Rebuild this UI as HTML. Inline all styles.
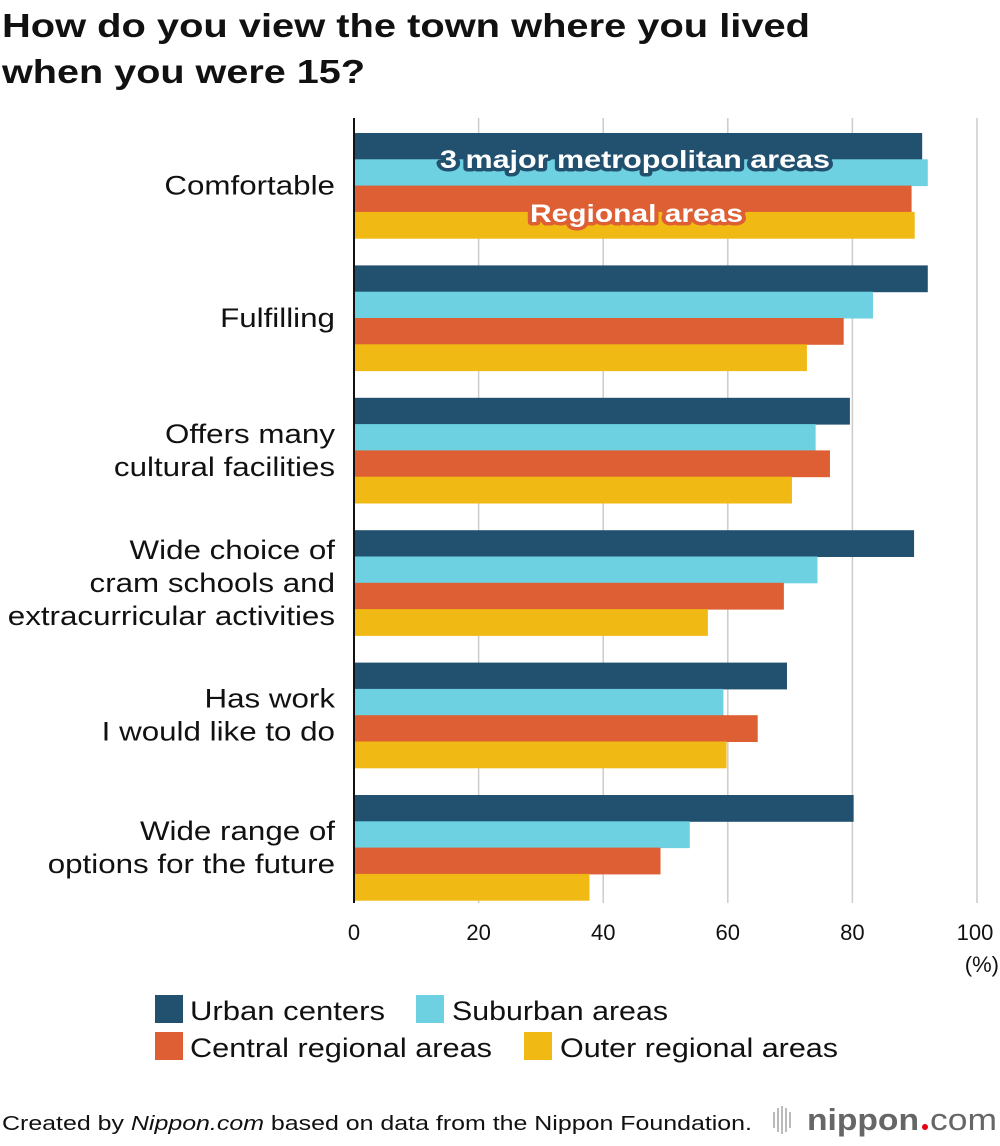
<!DOCTYPE html>
<html><head><meta charset="utf-8"><style>
body{margin:0;background:#fff}
svg{display:block;font-family:"Liberation Sans",Arial,sans-serif}
</style></head><body>
<svg width="1000" height="1146" viewBox="0 0 1000 1146">
<text x="2" y="37" font-size="33" font-weight="bold" fill="#111" textLength="808" lengthAdjust="spacingAndGlyphs">How do you view the town where you lived</text>
<text x="2" y="83" font-size="33" font-weight="bold" fill="#111" textLength="363" lengthAdjust="spacingAndGlyphs">when you were 15?</text>
<g id="grid"></g>
<g id="bars"></g>
<g id="labels"></g>
<g id="ticks"></g>
<line x1="354" y1="118" x2="354" y2="903" stroke="#111" stroke-width="2"/>
<text x="440" y="168" font-size="25" font-weight="bold" fill="#fff" stroke="#22516f" stroke-width="7" paint-order="stroke" stroke-linejoin="round" textLength="390" lengthAdjust="spacingAndGlyphs">3 major metropolitan areas</text>
<text x="530" y="222" font-size="25" font-weight="bold" fill="#fff" stroke="#dd5f33" stroke-width="7" paint-order="stroke" stroke-linejoin="round" textLength="213" lengthAdjust="spacingAndGlyphs">Regional areas</text>
<text x="999" y="972" text-anchor="end" font-size="22" fill="#111">(%)</text>
<g>
<rect x="155" y="995" width="28" height="28" fill="#22516f"/>
<text x="190" y="1020" font-size="27" fill="#111" textLength="195" lengthAdjust="spacingAndGlyphs">Urban centers</text>
<rect x="416" y="995" width="28" height="28" fill="#6dd1e1"/>
<text x="452" y="1020" font-size="27" fill="#111" textLength="216" lengthAdjust="spacingAndGlyphs">Suburban areas</text>
<rect x="155" y="1032" width="28" height="28" fill="#dd5f33"/>
<text x="190" y="1057" font-size="27" fill="#111" textLength="302" lengthAdjust="spacingAndGlyphs">Central regional areas</text>
<rect x="524" y="1032" width="28" height="28" fill="#f1b913"/>
<text x="560" y="1057" font-size="27" fill="#111" textLength="278" lengthAdjust="spacingAndGlyphs">Outer regional areas</text>
</g>
<text x="2" y="1130" font-size="20" fill="#111" textLength="750" lengthAdjust="spacingAndGlyphs">Created by <tspan font-style="italic">Nippon.com</tspan> based on data from the Nippon Foundation.</text>
<g>
<g fill="#bbb"><rect x="773" y="1112" width="2" height="16"/><rect x="777" y="1108" width="2" height="24"/><rect x="781" y="1106" width="2" height="28"/><rect x="785" y="1108" width="2" height="24"/><rect x="789" y="1112" width="2" height="16"/></g>
<text x="807" y="1130" font-size="31" font-weight="bold" fill="#666" textLength="112" lengthAdjust="spacingAndGlyphs">nippon</text>
<circle cx="925" cy="1127" r="3" fill="#e60012"/>
<text x="930" y="1130" font-size="31" fill="#666" textLength="67" lengthAdjust="spacingAndGlyphs">com</text>
</g>
</svg>
<script>
const categories=[["Comfortable"],["Fulfilling"],["Offers many","cultural facilities"],["Wide choice of","cram schools and","extracurricular activities"],["Has work","I would like to do"],["Wide range of","options for the future"]];
const urban=[91.2,92.1,79.6,89.9,69.5,80.2];
const suburban=[92.1,83.3,74.1,74.4,59.3,53.9];
const central=[89.5,78.6,76.4,69.0,64.8,49.2];
const outer=[90.0,72.7,70.3,56.8,59.8,37.8];
const ticks=[0,20,40,60,80,100];
const NS="http://www.w3.org/2000/svg";
const x0=354,x1=977,top0=133,groupH=132.4,barH=26.3;
const xs=v=>x0+(x1-x0)*v/100;
function mk(tag,attrs,parent){const e=document.createElementNS(NS,tag);for(const k in attrs)e.setAttribute(k,attrs[k]);document.getElementById(parent).appendChild(e);return e;}
ticks.forEach(t=>{
  if(t>0){const l=mk('line',{x1:xs(t),x2:xs(t),y1:118,y2:903,stroke:'#ccc','stroke-width':1.5},'grid');
  
  }
  const tx=mk('text',{x:t===100?xs(t)-2:xs(t),y:940,'text-anchor':'middle','font-size':22,fill:'#111'},'ticks');tx.textContent=t;
  
  
});
const series=[[urban,'#22516f','urban'],[suburban,'#6dd1e1','suburban'],[central,'#dd5f33','central'],[outer,'#f1b913','outer']];
categories.forEach((c,i)=>{
  const gy=top0+i*groupH;
  series.forEach((s,j)=>{
    const r=mk('rect',{x:x0,y:gy+j*barH,width:xs(s[0][i])-x0,height:barH+0.5,fill:s[1]},'bars');
    
    
  });
  const cy=gy+2*barH, lh=33, n=c.length;
  c.forEach((line,k)=>{
    const t=mk('text',{x:335,y:cy+9+(k-(n-1)/2)*lh,'text-anchor':'end','font-size':27,fill:'#111'},'labels');t.textContent=line;
    
    
    const w=t.getComputedTextLength();
    t.setAttribute('textLength',w*1.16);
    t.setAttribute('lengthAdjust','spacingAndGlyphs');
  });
});
</script>
</body></html>
